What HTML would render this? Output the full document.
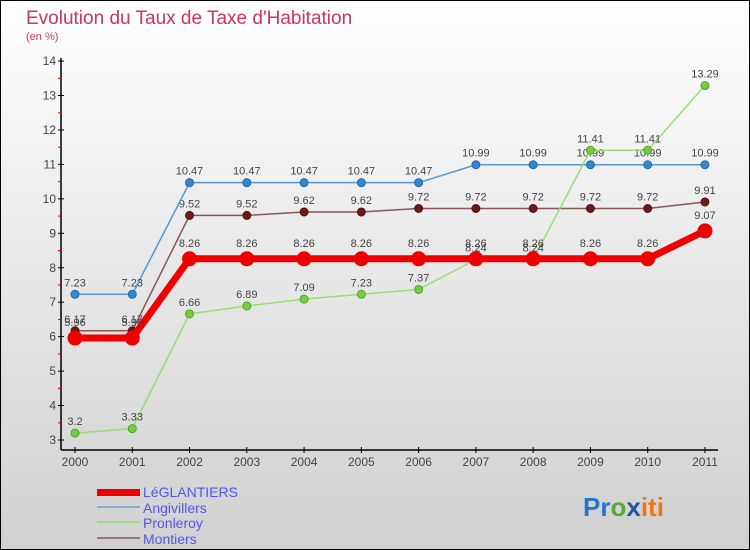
<!DOCTYPE html>
<html><head><meta charset="utf-8"><style>
body{margin:0;}
#c{width:750px;height:550px;position:relative;overflow:hidden;}
text{font-family:"Liberation Sans",sans-serif;}
</style></head><body>
<div id="c">
<svg id="s" width="750" height="550" xmlns="http://www.w3.org/2000/svg">
<defs><linearGradient id="bg" x1="0" y1="0" x2="0" y2="1"><stop offset="0" stop-color="#ffffff"/><stop offset="1" stop-color="#d0d0d0"/></linearGradient></defs>
<rect x="0.5" y="0.5" width="749" height="549" fill="url(#bg)" stroke="#000"/>
<text x="26" y="24" font-size="19" fill="#cc3366">Evolution du Taux de Taxe d'Habitation</text>
<text x="26" y="40" font-size="11" fill="#cc3366">(en %)</text>
<g id="axes"></g><g id="series"></g>
<g>
<rect x="97" y="489" width="43" height="7" fill="#ee0000"/>
<text x="143" y="497" font-size="14" fill="#5555ee">LéGLANTIERS</text>
<rect x="97" y="506" width="43" height="2" fill="#88aacc"/>
<text x="143" y="513" font-size="14" fill="#5555ee">Angivillers</text>
<rect x="97" y="521" width="43" height="2" fill="#99dd88"/>
<text x="143" y="528" font-size="14" fill="#5555ee">Pronleroy</text>
<rect x="97" y="537" width="43" height="2" fill="#997777"/>
<text x="143" y="544" font-size="14" fill="#5555ee">Montiers</text>
</g>
<g font-size="26" font-weight="bold">
<text x="583" y="516"><tspan fill="#2277cc">Pr</tspan><tspan fill="#55aa33">o</tspan><tspan fill="#2255aa">x</tspan><tspan fill="#ee7711">iti</tspan></text>
</g>
</svg></div>
<script>
const years=["2000","2001","2002","2003","2004","2005","2006","2007","2008","2009","2010","2011"];
const yTicks=[3,4,5,6,7,8,9,10,11,12,13,14];
const leglantiers=[5.96,5.96,8.26,8.26,8.26,8.26,8.26,8.26,8.26,8.26,8.26,9.07];
const angivillers=[7.23,7.23,10.47,10.47,10.47,10.47,10.47,10.99,10.99,10.99,10.99,10.99];
const pronleroy=[3.2,3.33,6.66,6.89,7.09,7.23,7.37,8.24,8.24,11.41,11.41,13.29];
const montiers=[6.17,6.17,9.52,9.52,9.62,9.62,9.72,9.72,9.72,9.72,9.72,9.91];
const NS="http://www.w3.org/2000/svg";
const xS=i=>75+i*57.27;
const yS=v=>440-(v-3)*34.45;
function mk(t,a,p){const e=document.createElementNS(NS,t);for(const k in a)e.setAttribute(k,a[k]);p.appendChild(e);return e;}
const ax=document.getElementById('axes');
const yl=mk('line',{x1:61,y1:58,x2:61,y2:450,stroke:'#000','stroke-width':1.5},ax);


const xl=mk('line',{x1:61,y1:450,x2:718,y2:450,stroke:'#000','stroke-width':1.5},ax);


yTicks.forEach(v=>{
  mk('line',{x1:58,x2:64,y1:yS(v),y2:yS(v),stroke:'#000'},ax);
  if(v<14)mk('line',{x1:58,x2:61,y1:yS(v+0.5),y2:yS(v+0.5),stroke:'#e00'},ax);
  const t=mk('text',{x:56,y:yS(v)+4,'font-size':12,'text-anchor':'end',fill:'#444'},ax);t.textContent=v;
  
  
});
years.forEach((y,i)=>{
  mk('line',{x1:xS(i),x2:xS(i),y1:447,y2:453,stroke:'#000'},ax);
  const t=mk('text',{x:xS(i),y:466,'font-size':12,'text-anchor':'middle',fill:'#444'},ax);t.textContent=y;
  
  
});
const sg=document.getElementById('series');
function series(name,data,color,lw,fill,r,line){
  const g=mk('g',{},sg);
  
  
  mk('polyline',{points:data.map((v,i)=>xS(i)+','+yS(v)).join(' '),fill:'none',stroke:line,'stroke-width':lw,'stroke-linejoin':'round'},g);
  data.forEach((v,i)=>{
    const c=mk('circle',{cx:xS(i),cy:yS(v),r:r,fill:fill,stroke:color,'stroke-width':1},g);
    
    
    const t=mk('text',{x:xS(i),y:yS(v)-8-(r>5?4:0),'font-size':11,'text-anchor':'middle',fill:'#444'},g);t.textContent=v;
  });
}
series('montiers',montiers,'#551111',1.5,'#6b1a1a',4,'#8a5555');
series('angivillers',angivillers,'#2266aa',1.5,'#3388cc',4,'#5599cc');
series('pronleroy',pronleroy,'#44aa22',1.5,'#77cc44',4,'#99dd77');
series('leglantiers',leglantiers,'#ee0000',7,'#ee0000',7,'#ee0000');
</script>
</body></html>
